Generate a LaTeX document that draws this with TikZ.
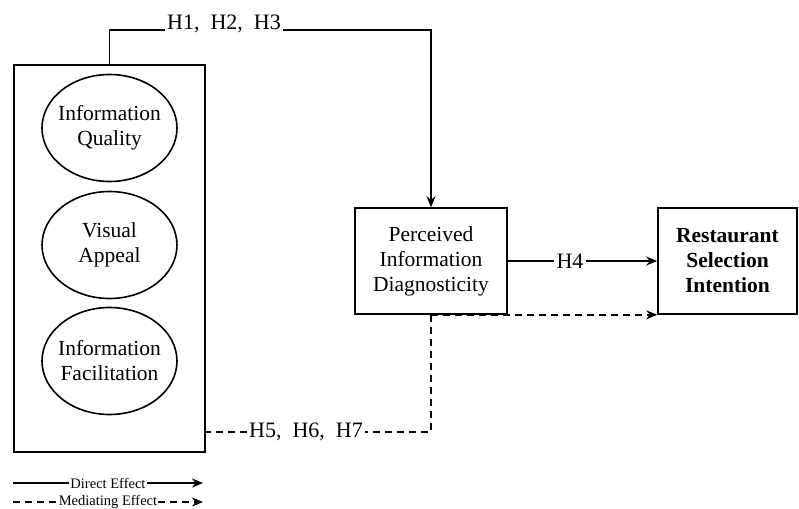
\documentclass[tikz,border=0pt]{standalone}
\usepackage{fontspec}
\setmainfont{Liberation Serif}
\usetikzlibrary{shapes.geometric,positioning,arrows.meta}
\tikzset{
  construct/.style={draw,ellipse,line width=1.6pt,minimum width=135pt,minimum height=107pt,inner sep=-8pt,align=center,font=\fontsize{21.5}{25}\selectfont},
  factor/.style={draw,rectangle,line width=1.6pt,inner sep=0pt,align=center,font=\fontsize{21.5}{25}\selectfont},
  hyp/.style={inner sep=2pt,font=\fontsize{22}{24}\selectfont},
  legendtxt/.style={inner sep=1pt,font=\fontsize{14.5}{15}\selectfont},
  link/.style={line width=1.5pt},
  medlink/.style={line width=1.5pt,dash pattern=on 7pt off 5pt}
}
\begin{document}
\begin{tikzpicture}[>={Stealth[length=11pt,width=9pt]},x=1pt,y=-1pt]
  \useasboundingbox (0,0) rectangle (799,508);
  % predictors
  \node[factor,minimum width=191pt,minimum height=387pt] (grp) at (109.5,258.5) {};
  \node[construct] (iq) at (109.5,128) {Information\\Quality};
  \node[construct] (va) at (109.5,245) {Visual\\Appeal};
  \node[construct] (if) at (109.5,361) {Information\\Facilitation};
  % mediator and outcome
  \node[factor,minimum width=152pt,minimum height=106pt] (pid) at (431,261) {Perceived\\Information\\Diagnosticity};
  \node[factor,minimum width=139pt,minimum height=106pt,font=\fontsize{21.5}{25}\selectfont\bfseries] (rsi) at (727.5,261) {Restaurant\\Selection\\Intention};
  % hypotheses
  \node[hyp,anchor=base] (h13) at (224,30) {H1,\ \ H2,\ \ H3};
  \node[hyp] (h4) at (570,261) {H4};
  \node[hyp] (h57) at (306,432) {H5,\ \ H6,\ \ H7};
  \draw[link] (grp.north) |- (h13.base west);
  \draw[link,->] (h13.base east) -| (pid.north);
  \draw[link] (pid) -- (h4);
  \draw[link,->] (h4) -- (rsi);
  \draw[medlink] (pid.south) |- (h57.east);
  \draw[medlink] (h57.west) -- (grp.east |- h57.west);
  \draw[medlink,->] (pid.south) -- (rsi.south west);
  % legend
  \node[legendtxt] (direct) at (108,483) {Direct Effect};
  \node[legendtxt] (mediating) at (108,502) {Mediating Effect};
  \coordinate (d0) at (13,483);
  \coordinate (d1) at (203,483);
  \coordinate (m0) at (13,502);
  \coordinate (m1) at (203,502);
  \draw[link] (d0) -- (direct);
  \draw[link,->] (direct) -- (d1);
  \draw[medlink] (m0) -- (mediating);
  \draw[medlink,->] (mediating) -- (m1);
\end{tikzpicture}
\end{document}
